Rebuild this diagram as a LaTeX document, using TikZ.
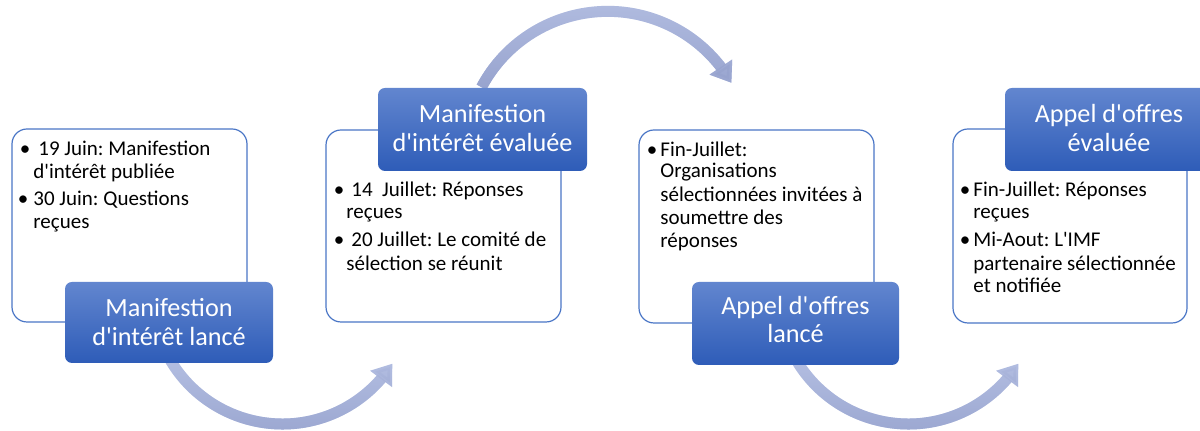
\documentclass[tikz,border=0pt]{standalone}
\usepackage{fontspec}
\setmainfont{Carlito}
\usetikzlibrary{arrows.meta,bending,fadings}
\definecolor{bord}{HTML}{4A76C6}
\definecolor{boxtop}{HTML}{6286CF}
\definecolor{boxbot}{HTML}{2E5CB8}
\definecolor{arrowc}{HTML}{B5C0E3}
\definecolor{arrowd}{HTML}{97A3CE}
\newcommand{\apo}{\textquotesingle}
\frenchspacing
\tikzset{
  card/.style={draw=bord, line width=0.6pt, fill=white, rounded corners=7.5pt},
  ttlbox/.style={top color=boxtop, bottom color=boxbot, draw=none, rounded corners=3.5pt},
  ttl/.style={anchor=base, inner sep=0pt, text=white, font=\fontsize{13.1pt}{15pt}\selectfont},
  body/.style={anchor=base west, inner sep=0pt, text=black, font=\fontsize{10.5pt}{12pt}\selectfont},
  bul/.style={anchor=base, inner sep=0pt, text=black, font=\fontsize{10.5pt}{12pt}\selectfont},
  bigarrow/.style={draw=arrowc, line width=5.5pt, -{Triangle[width=13pt,length=9.5pt,flex]}},
  bigarrowdark/.style={draw=arrowd, line width=5.5pt, -{Triangle[width=13pt,length=9.5pt,flex]}, path fading=north}
}
\begin{document}
\begin{tikzpicture}[x=0.5pt,y=-0.5pt]
\useasboundingbox (0,0) rectangle (1200,431);
\clip (0,0) rectangle (1200,431);
% arrows
\coordinate (a1s) at (169.5,358.8);
\coordinate (a2s) at (481.5,87.2);
\coordinate (a3s) at (795.5,358.8);
\draw[bigarrow] (a1s) arc[start angle=150, end angle=32.5, radius=130.4];
\draw[bigarrowdark] (a1s) arc[start angle=150, end angle=32.5, radius=130.4];
\draw[bigarrow] (a2s) arc[start angle=208, end angle=330, radius=142.9];
\draw[bigarrowdark] (a2s) arc[start angle=208, end angle=330, radius=142.9];
\draw[bigarrow] (a3s) arc[start angle=150, end angle=32.5, radius=130.4];
\draw[bigarrowdark] (a3s) arc[start angle=150, end angle=32.5, radius=130.4];
% cards
\path[card] (12,129) rectangle (247,322) coordinate (c1);
\path[card] (326,130) rectangle (561,322) coordinate (c2);
\path[card] (639,130) rectangle (874,323) coordinate (c3);
\path[card] (953,129) rectangle (1187,323) coordinate (c4);
% title boxes
\path[ttlbox] (65,282) rectangle (273,363) coordinate (b1);
\path[ttlbox] (378,88) rectangle (587,171) coordinate (b2);
\path[ttlbox] (692,282) rectangle (899,365) coordinate (b3);
\path[ttlbox] (1005,88) rectangle (1213,171) coordinate (b4);
% titles
\node[ttl] (t1a) at (169,317) {Manifestion};
\node[ttl] (t1b) at (169,346) {d\apo intérêt lancé};
\node[ttl] (t2a) at (482.5,123) {Manifestion};
\node[ttl] (t2b) at (482.5,152) {d\apo intérêt évaluée};
\node[ttl] (t3a) at (795.5,315) {Appel d\apo offres};
\node[ttl] (t3b) at (795.5,343) {lancé};
\node[ttl] (t4a) at (1109,123) {Appel d\apo offres};
\node[ttl] (t4b) at (1109,152) {évaluée};
% card 1
\node[bul] (p1a) at (25,156) {\textbullet};
\node[body] (l1a) at (38,156) {19 Juin: Manifestion};
\node[body] (l1b) at (33,179) {d\apo intérêt publiée};
\node[bul] (p1b) at (23,206) {\textbullet};
\node[body] (l1c) at (33,206) {30 Juin: Questions};
\node[body] (l1d) at (33,229) {reçues};
% card 2
\node[bul] (p2a) at (339,197) {\textbullet};
\node[body] (l2a) at (351,197) {14\ \ Juillet: Réponses};
\node[body] (l2b) at (346,219) {reçues};
\node[bul] (p2b) at (339,247) {\textbullet};
\node[body] (l2c) at (351,247) {20 Juillet: Le comité de};
\node[body] (l2d) at (346,271) {sélection se réunit};
% card 3
\node[bul] (p3a) at (652,157) {\textbullet};
\node[body] (l3a) at (660,157) {Fin-Juillet:};
\node[body] (l3b) at (660,178) {Organisations};
\node[body] (l3c) at (660,201.5) {sélectionnées invitées à};
\node[body] (l3d) at (660,225) {soumettre des};
\node[body] (l3e) at (660,247.5) {réponses};
% card 4
\node[bul] (p4a) at (965,197) {\textbullet};
\node[body] (l4a) at (973,197) {Fin-Juillet: Réponses};
\node[body] (l4b) at (973,219) {reçues};
\node[bul] (p4b) at (965,247) {\textbullet};
\node[body] (l4c) at (973,247) {Mi-Aout: L\apo IMF};
\node[body] (l4d) at (973,271) {partenaire sélectionnée};
\node[body] (l4e) at (973,293) {et notifiée};
\end{tikzpicture}
\end{document}
